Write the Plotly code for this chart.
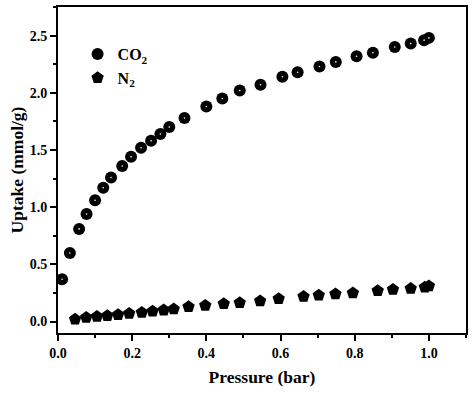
import plotly.graph_objects as go

co2_p = [0.011, 0.032, 0.057, 0.077, 0.100, 0.122, 0.143, 0.173, 0.197, 0.224,
         0.251, 0.276, 0.300, 0.341, 0.400, 0.443, 0.490, 0.546, 0.605, 0.646,
         0.705, 0.749, 0.805, 0.849, 0.908, 0.951, 0.987, 1.000]
co2_u = [0.37, 0.60, 0.81, 0.94, 1.06, 1.17, 1.26, 1.36, 1.44, 1.52,
         1.58, 1.64, 1.70, 1.78, 1.88, 1.95, 2.02, 2.07, 2.14, 2.18,
         2.23, 2.27, 2.32, 2.35, 2.40, 2.43, 2.46, 2.48]

n2_p = [0.046, 0.076, 0.105, 0.133, 0.162, 0.192, 0.226, 0.255, 0.285, 0.312,
        0.352, 0.397, 0.447, 0.490, 0.545, 0.595, 0.662, 0.703, 0.748, 0.795,
        0.862, 0.903, 0.951, 0.989, 1.000]
n2_u = [0.02, 0.035, 0.044, 0.05, 0.06, 0.07, 0.08, 0.09, 0.10, 0.11,
        0.13, 0.14, 0.155, 0.165, 0.18, 0.20, 0.22, 0.23, 0.24, 0.25,
        0.27, 0.28, 0.29, 0.30, 0.31]

x_ticks = [0.0, 0.2, 0.4, 0.6, 0.8, 1.0]
x_tick_text = ["0.0", "0.2", "0.4", "0.6", "0.8", "1.0"]
y_ticks = [0.0, 0.5, 1.0, 1.5, 2.0, 2.5]
y_tick_text = ["0.0", "0.5", "1.0", "1.5", "2.0", "2.5"]

FONT = "Liberation Serif"

fig = go.Figure()
fig.add_trace(go.Scatter(x=co2_p, y=co2_u, mode="markers", name="CO<sub>2</sub>",
                         marker=dict(symbol="circle", size=12, color="black")))
fig.add_trace(go.Scatter(x=n2_p, y=n2_u, mode="markers", name="N<sub>2</sub>",
                         marker=dict(symbol="pentagon", size=13, color="black")))
fig.add_trace(go.Scatter(x=co2_p, y=co2_u, mode="markers", showlegend=False,
                         hoverinfo="skip",
                         marker=dict(symbol="circle", size=1.6, color="white")))

axis_common = dict(
    showline=True, linecolor="black", linewidth=2, mirror=True,
    ticks="outside", ticklen=6, tickwidth=2, tickcolor="black",
    showgrid=False, zeroline=False, automargin=False,
    tickfont=dict(family=FONT, size=14, color="black", weight="bold"),
)

fig.update_xaxes(
    range=[0, 1.1], tickvals=x_ticks, ticktext=x_tick_text,
    minor=dict(ticks="outside", ticklen=3, tickwidth=2, tickcolor="black", dtick=0.1, tick0=0),
    title=dict(text="Pressure (bar)", font=dict(family=FONT, size=17.5, color="black", weight="bold"),
               standoff=11),
    **axis_common)
fig.update_yaxes(
    range=[-0.1, 2.75], tickvals=y_ticks, ticktext=y_tick_text,
    minor=dict(ticks="outside", ticklen=3, tickwidth=2, tickcolor="black", dtick=0.25, tick0=0),
    title=dict(text="Uptake (mmol/g)", font=dict(family=FONT, size=17.5, color="black", weight="bold"),
               standoff=2),
    **axis_common)

fig.update_layout(
    width=474, height=394,
    margin=dict(l=58, r=8, t=7, b=61),
    paper_bgcolor="white", plot_bgcolor="white",
    showlegend=True,
    legend=dict(x=0.048, y=0.908, xanchor="left", yanchor="top",
                bgcolor="rgba(0,0,0,0)", borderwidth=0,
                font=dict(family=FONT, size=16, color="black", weight="bold"),
                itemsizing="trace", tracegroupgap=2),
)

fig.write_html("out.html", config={"displayModeBar": False},
               post_script="document.body.style.margin='0';document.body.style.padding='0';")
